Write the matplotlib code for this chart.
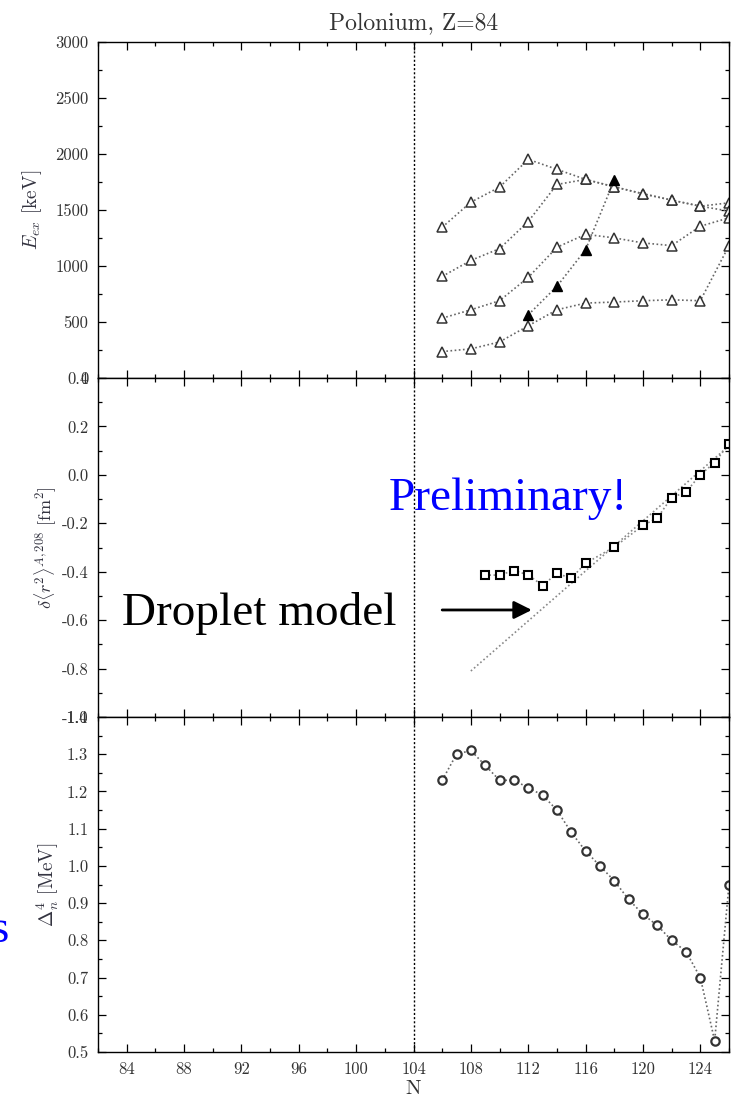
import matplotlib
matplotlib.use("Agg")
import matplotlib.pyplot as plt
from matplotlib.ticker import MultipleLocator

plt.rcParams['font.family'] = ['cmr10', 'DejaVu Serif']
plt.rcParams['mathtext.fontset'] = 'cm'
plt.rcParams['axes.unicode_minus'] = False
plt.rcParams['axes.formatter.use_mathtext'] = False

# excitation energies (keV) of the yrast levels, N = 106 ... 126
n_levels = [106, 108, 110, 112, 114, 116, 118, 120, 122, 124, 126]
level_8 = [1346, 1570, 1704, 1952, 1863, 1773, 1707, 1645, 1588, 1534, 1564]
level_6 = [907, 1050, 1155, 1397, 1728, 1773, 1707, 1645, 1588, 1534, 1490]
level_4 = [534, 609, 690, 898, 1167, 1283, 1251, 1206, 1182, 1355, 1430]
level_2 = [236, 260, 322, 466, 609, 669, 678, 690, 698, 690, 1182]
n_intruder = [112, 114, 116, 118]
intruder = [564, 818, 1146, 1767]

# charge radii relative to 208Po
n_radii = [109, 110, 111, 112, 113, 114, 115, 116, 118, 120, 121, 122, 123, 124, 125, 126]
dr2 = [-0.414, -0.414, -0.395, -0.413, -0.457, -0.407, -0.427, -0.365,
       -0.298, -0.209, -0.178, -0.094, -0.071, 0.0, 0.051, 0.128]
n_droplet = [108, 126]
droplet = [-0.81, 0.12]

# four-point neutron pairing gap (MeV)
n_gap = list(range(106, 127))
gap = [1.23, 1.30, 1.31, 1.27, 1.23, 1.23, 1.21, 1.19, 1.15, 1.09, 1.04,
       1.00, 0.96, 0.91, 0.87, 0.84, 0.80, 0.77, 0.70, 0.53, 0.95]

W, H = 731, 1101
fig = plt.figure(figsize=(W / 100, H / 100), dpi=100)

left, right = 98 / W, 729 / W
edges = [42, 378, 717, 1052]
axes = []
for i in range(3):
    top = 1 - edges[i] / H
    bot = 1 - edges[i + 1] / H
    axes.append(fig.add_axes([left, bot, right - left, top - bot]))
ax1, ax2, ax3 = axes

line_kw = dict(ls=(0, (1, 1.5)), lw=1.2, color='#666666')
label_col = '#333340'

for ax in axes:
    ax.set_xlim(82, 126)
    ax.xaxis.set_major_locator(MultipleLocator(4))
    ax.xaxis.set_minor_locator(MultipleLocator(2))
    ax.tick_params(which='both', direction='in', top=True, right=True,
                   width=0.9, labelsize=12, labelcolor='#333333', pad=7)
    ax.tick_params(which='major', length=6)
    ax.tick_params(which='minor', length=3)
    for s in ax.spines.values():
        s.set_linewidth(1.0)
    ax.axvline(104, color='black', lw=1.0, ls=(0, (1.5, 1.5)))

ax1.tick_params(labelbottom=False)
ax2.tick_params(labelbottom=False)

# top panel: level energies
for vals in (level_8, level_6, level_4, level_2):
    ax1.plot(n_levels, vals, **line_kw)
    ax1.plot(n_levels, vals, ls='none', marker='^', ms=7, mfc='white',
             mec='#333333', mew=1.1)
ax1.plot(n_intruder, intruder, **line_kw)
ax1.plot(n_intruder, intruder, ls='none', marker='^', ms=7, mfc='black',
         mec='black', mew=1.0)
ax1.set_ylim(0, 3000)
ax1.yaxis.set_major_locator(MultipleLocator(500))
ax1.yaxis.set_minor_locator(MultipleLocator(250))
ax1.set_ylabel(r'$E_{ex}$ [keV]', fontsize=14, color=label_col, labelpad=8)
ax1.set_title('Polonium, Z=84', fontsize=17, color='#333333', pad=9)

# middle panel: charge radii
ax2.plot(n_droplet, droplet, ls=(0, (1, 1.5)), lw=1.2, color='#888888')
ax2.plot(n_radii, dr2, ls=(0, (1, 1.5)), lw=1.2, color='#888888')
ax2.plot(n_radii, dr2, ls='none', marker='s', ms=6, mfc='white',
         mec='black', mew=1.5)
ax2.set_ylim(-1.0, 0.4)
ax2.yaxis.set_major_locator(MultipleLocator(0.2))
ax2.yaxis.set_minor_locator(MultipleLocator(0.1))
ax2.set_yticks([-1.0, -0.8, -0.6, -0.4, -0.2, 0.0, 0.2, 0.4])
ax2.set_yticklabels(['-1.0', '-0.8', '-0.6', '-0.4', '-0.2', '0.0', '0.2', '0.4'])
ax2.set_ylabel(r'$\delta\langle r^2\rangle^{A,208}$ [fm$^2$]', fontsize=13,
               color=label_col, labelpad=2)

ax2.text(102.3, -0.144, 'Preliminary!', family='Liberation Serif',
         fontsize=34, color='#0000ff', va='baseline', ha='left')
ax2.text(83.65, -0.62, 'Droplet model', family='Liberation Serif',
         fontsize=34, color='black', va='baseline', ha='left')
ax2.annotate('', xy=(112.25, -0.558), xytext=(106.0, -0.558),
             arrowprops=dict(arrowstyle='-|>,head_length=0.6,head_width=0.3',
                             mutation_scale=18, lw=2, color='black',
                             shrinkA=0, shrinkB=0))

# bottom panel: pairing gap
ax3.plot(n_gap, gap, **line_kw)
ax3.plot(n_gap, gap, ls='none', marker='o', ms=6, mfc='white',
         mec='#333333', mew=1.6)
ax3.set_ylim(0.5, 1.4)
ax3.yaxis.set_major_locator(MultipleLocator(0.1))
ax3.yaxis.set_minor_locator(MultipleLocator(0.05))
ax3.set_yticks([0.5, 0.6, 0.7, 0.8, 0.9, 1.0, 1.1, 1.2, 1.3, 1.4])
ax3.set_yticklabels(['0.5', '0.6', '0.7', '0.8', '0.9', '1.0', '1.1', '1.2', '1.3', '1.4'])
ax3.set_ylabel(r'$\Delta_n^4$ [MeV]', fontsize=14, color=label_col, labelpad=4)
ax3.set_xlabel('N', fontsize=15, color='#333333', labelpad=2)

fig.text(9 / W, 1 - 942 / H, 's', family='Liberation Serif', fontsize=34,
         color='#0000ff', ha='right', va='baseline')

fig.savefig('out.png', dpi=100)
